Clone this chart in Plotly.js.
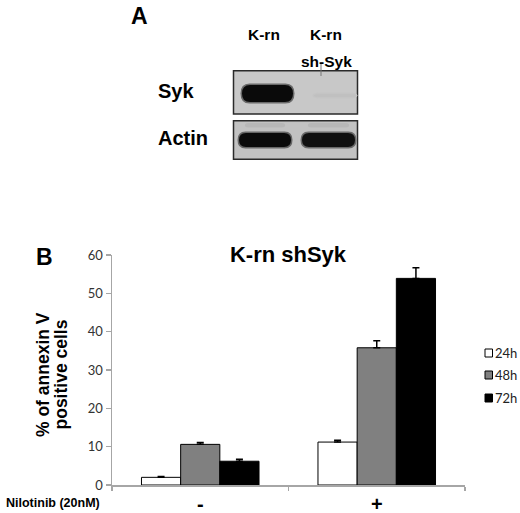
<!DOCTYPE html>
<html>
<head>
<meta charset="utf-8">
<script src="https://cdn.plot.ly/plotly-3.0.1.min.js"></script>
<style>html,body{margin:0;padding:0;background:#fff;}#chart{width:520px;height:513px;}</style>
</head>
<body>
<div id="chart"></div>
<script>
// ---- Panel B data ----
var categories = ['-', '+'];
var seriesNames = ['24h', '48h', '72h'];
var values24 = [2.0, 11.2];
var values48 = [10.6, 35.8];
var values72 = [6.2, 53.9];
var errors24 = [0.2, 0.5];
var errors48 = [0.5, 1.8];
var errors72 = [0.5, 2.8];
var yTicks = [0, 10, 20, 30, 40, 50, 60];

// ---- Panel A (western blot) data: relative band intensity per lane ----
var blotLanes = ['K-rn', 'K-rn'];
var blotLaneSub = ['', 'sh-Syk'];
var blotProteins = ['Syk', 'Actin'];
var sykIntensity = [1.0, 0.04];
var actinIntensity = [1.0, 0.97];

// ---- helpers (pixel -> paper) ----
var W = 520, H = 513;
function px(x){ return x / W; }
function py(y){ return 1 - y / H; }

var boldFont = 'Liberation Sans, Arial, sans-serif';
var tickFontFam = 'Lato, Carlito, sans-serif';
var colors = ['#ffffff', '#808080', '#000000'];
var valueSets = [values24, values48, values72];
var errorSets = [errors24, errors48, errors72];

var traces = seriesNames.map(function(name, i){
  return {
    type: 'bar', name: name, x: categories, y: valueSets[i],
    marker: {color: colors[i], line: {color: '#000', width: 1}},
    error_y: {type: 'data', array: errorSets[i], arrayminus: errorSets[i].map(function(){return 0;}),
              symmetric: false, color: '#000', thickness: 1.5, width: 3.5},
    showlegend: false, hoverinfo: 'skip'
  };
});

var shapes = [];
var annotations = [];

// custom legend
seriesNames.forEach(function(name, i){
  var cy = [353, 375, 398][i];
  shapes.push({type: 'rect', xref: 'paper', yref: 'paper',
    x0: px(485), x1: px(492.5), y0: py(cy - 4), y1: py(cy + 4),
    fillcolor: colors[i], line: {color: '#000', width: 1}});
  annotations.push({xref: 'paper', yref: 'paper', x: px(493), y: py(cy), text: name,
    showarrow: false, xanchor: 'left', yanchor: 'middle',
    font: {family: tickFontFam, size: 13, color: '#222'}});
});

// ---- blot drawing ----
function mix(bg, intensity){
  var v = Math.round(bg * (1 - intensity) + 10 * intensity);
  return 'rgb(' + v + ',' + v + ',' + v + ')';
}
function roundBand(x0, x1, y0, y1, r){
  var X0 = px(x0), X1 = px(x1), Y0 = py(y0), Y1 = py(y1);
  var rx = px(r);
  return 'M' + (X0 + rx) + ',' + Y0 + ' L' + (X1 - rx) + ',' + Y0 +
    ' Q' + X1 + ',' + Y0 + ' ' + X1 + ',' + ((Y0 + Y1) / 2) +
    ' Q' + X1 + ',' + Y1 + ' ' + (X1 - rx) + ',' + Y1 +
    ' L' + (X0 + rx) + ',' + Y1 +
    ' Q' + X0 + ',' + Y1 + ' ' + X0 + ',' + ((Y0 + Y1) / 2) +
    ' Q' + X0 + ',' + Y0 + ' ' + (X0 + rx) + ',' + Y0 + ' Z';
}
var boxes = [[70.7, 114], [120.7, 159.3]];
var bgLevels = [200, 194];
boxes.forEach(function(b, i){
  shapes.push({type: 'rect', xref: 'paper', yref: 'paper', x0: px(233.5), x1: px(357.5),
    y0: py(b[0]), y1: py(b[1]), fillcolor: 'rgb(' + bgLevels[i] + ',' + bgLevels[i] + ',' + bgLevels[i] + ')',
    line: {color: '#2a2a2a', width: 1.5}, layer: 'below'});
});
// Syk bands
var sykLaneX = [[242, 293], [314, 356]];
var sykLaneY = [[85, 102], [94, 97]];
sykIntensity.forEach(function(v, i){
  var xs = sykLaneX[i], ys = sykLaneY[i];
  shapes.push({type: 'path', xref: 'paper', yref: 'paper', layer: 'below',
    path: roundBand(xs[0] - 1.5, xs[1] + 1.5, ys[0] - 1.5, ys[1] + 1.5, 9),
    fillcolor: mix(bgLevels[0], v * 0.5), line: {width: 0}});
  shapes.push({type: 'path', xref: 'paper', yref: 'paper', layer: 'below',
    path: roundBand(xs[0], xs[1], ys[0], ys[1], 8),
    fillcolor: mix(bgLevels[0], v), line: {width: 0}});
});
// Actin bands
var actinLaneX = [[239, 291], [302, 355]];
actinIntensity.forEach(function(v, i){
  var xs = actinLaneX[i];
  shapes.push({type: 'path', xref: 'paper', yref: 'paper', layer: 'below',
    path: roundBand(xs[0] + 6, xs[1] - 6, 123, 127.5, 3),
    fillcolor: mix(bgLevels[1], v * 0.06), line: {width: 0}});
  shapes.push({type: 'path', xref: 'paper', yref: 'paper', layer: 'below',
    path: roundBand(xs[0] - 1.5, xs[1] + 1.5, 131.5, 148.5, 8),
    fillcolor: mix(bgLevels[1], v * 0.5), line: {width: 0}});
  shapes.push({type: 'path', xref: 'paper', yref: 'paper', layer: 'below',
    path: roundBand(xs[0], xs[1], 133, 147, 7),
    fillcolor: mix(bgLevels[1], v), line: {width: 0}});
});
// small mark under sh-Syk
shapes.push({type: 'line', xref: 'paper', yref: 'paper', x0: px(321), x1: px(321), y0: py(64), y1: py(76),
  line: {color: '#777', width: 1}});

// blot text
var laneCenters = [264, 326];
blotLanes.forEach(function(t, i){
  annotations.push({xref: 'paper', yref: 'paper', x: px(laneCenters[i]), y: py(35), text: '<b>' + t + '</b>',
    showarrow: false, xanchor: 'center', yanchor: 'middle', font: {family: boldFont, size: 15.5, color: '#000'}});
  if (blotLaneSub[i]) annotations.push({xref: 'paper', yref: 'paper', x: px(laneCenters[i]), y: py(61), text: '<b>' + blotLaneSub[i] + '</b>',
    showarrow: false, xanchor: 'center', yanchor: 'middle', font: {family: boldFont, size: 15.5, color: '#000'}});
});
var protY = [91, 138];
blotProteins.forEach(function(t, i){
  annotations.push({xref: 'paper', yref: 'paper', x: px(156), y: py(protY[i]), text: '<b>' + t + '</b>',
    showarrow: false, xanchor: 'left', yanchor: 'middle', font: {family: boldFont, size: 20, color: '#000'}});
});
// panel letters
annotations.push({xref: 'paper', yref: 'paper', x: px(129), y: py(16), text: '<b>A</b>', showarrow: false,
  xanchor: 'left', yanchor: 'middle', font: {family: boldFont, size: 23, color: '#000'}});
annotations.push({xref: 'paper', yref: 'paper', x: px(34), y: py(257), text: '<b>B</b>', showarrow: false,
  xanchor: 'left', yanchor: 'middle', font: {family: boldFont, size: 23, color: '#000'}});
// y-axis title (two lines)
annotations.push({xref: 'paper', yref: 'paper', x: px(43), y: py(375), text: '<b>% of annexin V</b>', showarrow: false,
  textangle: -90, xanchor: 'center', yanchor: 'middle', font: {family: boldFont, size: 17.5, color: '#000'}});
annotations.push({xref: 'paper', yref: 'paper', x: px(60.5), y: py(375), text: '<b>positive cells</b>', showarrow: false,
  textangle: -90, xanchor: 'center', yanchor: 'middle', font: {family: boldFont, size: 17.5, color: '#000'}});
// x label
annotations.push({xref: 'paper', yref: 'paper', x: px(4), y: py(503), text: '<b>Nilotinib (20nM)</b>', showarrow: false,
  xanchor: 'left', yanchor: 'middle', font: {family: boldFont, size: 12.5, color: '#000'}});

var catTickText = categories.map(function(c){ return '<b>' + c + '</b>'; });

var layout = {
  width: W, height: H,
  margin: {l: 0, r: 0, t: 0, b: 0, pad: 0},
  paper_bgcolor: '#fff', plot_bgcolor: 'rgba(0,0,0,0)',
  barmode: 'group', bargap: 0.334, bargroupgap: 0,
  showlegend: false,
  title: {text: '<b>K-rn shSyk</b>', x: px(288), y: py(254), xref: 'paper', yref: 'paper',
    xanchor: 'center', yanchor: 'middle', font: {family: boldFont, size: 22, color: '#000'}},
  xaxis: {domain: [px(112), px(465)], showline: true, linecolor: '#a6a6a6', linewidth: 1.5,
    ticks: 'outside', tickson: 'boundaries', ticklen: 4, tickcolor: '#a6a6a6', tickwidth: 1.5,
    showgrid: false, zeroline: false, tickfont: {family: boldFont, size: 20, color: '#000'},
    tickmode: 'array', tickvals: categories, ticktext: catTickText, fixedrange: true},
  yaxis: {domain: [py(485), py(255)], range: [0, 60], tickvals: yTicks, showline: true, linecolor: '#a6a6a6',
    linewidth: 1.5, ticks: 'outside', ticklen: 5, tickcolor: '#a6a6a6', tickwidth: 1.5,
    showgrid: false, zeroline: false, tickfont: {family: tickFontFam, size: 13, color: '#333'}, fixedrange: true},
  shapes: shapes,
  annotations: annotations
};

Plotly.newPlot('chart', traces, layout, {staticPlot: true, displayModeBar: false});
</script>
</body>
</html>
